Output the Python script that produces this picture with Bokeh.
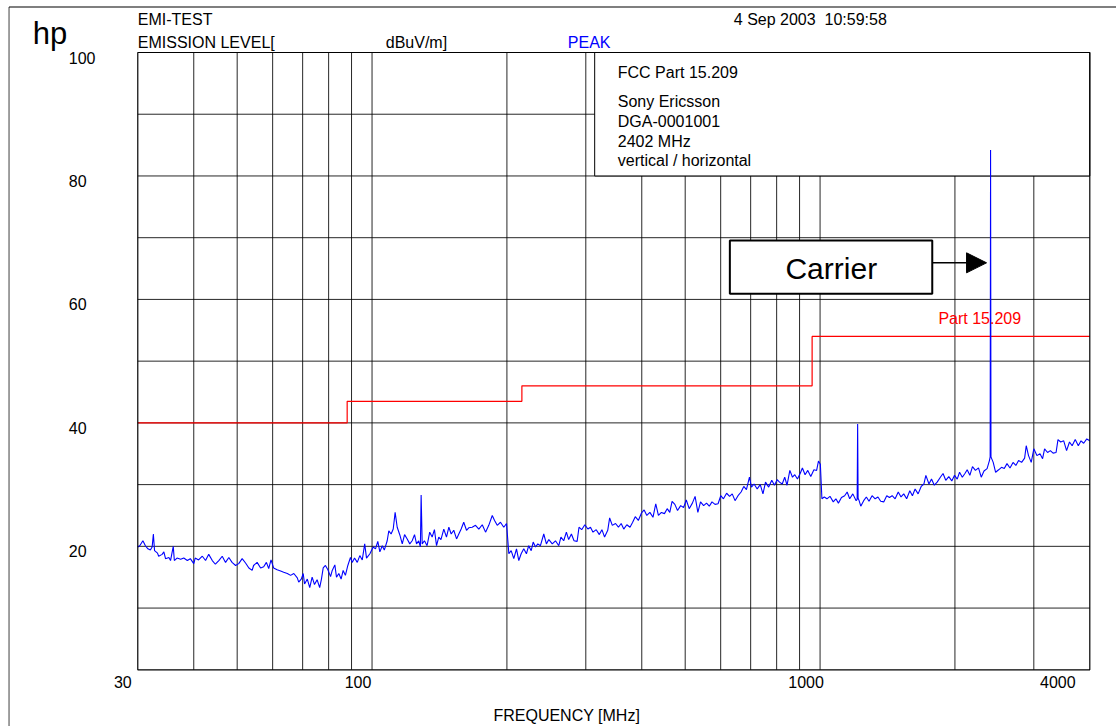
from bokeh.plotting import figure
from bokeh.models import Label, BoxAnnotation, Arrow, NormalHead, Range1d
from bokeh.embed import file_html
from bokeh.resources import INLINE

# ---------------- data ----------------
freq_mhz = [
    30.0, 30.3, 30.8, 31.2, 31.6, 32.0, 32.3, 32.5, 32.7, 33.2, 33.4, 34.0, 34.3, 34.6, 35.2, 35.5,
    36.0, 36.2, 36.7, 37.4, 38.0, 38.7, 39.3, 40.0, 40.3, 41.0, 41.8, 42.5, 43.2, 44.0, 44.7, 45.5,
    46.3, 47.1, 47.9, 48.7, 49.6, 50.4, 51.3, 52.2, 53.1, 54.0, 54.4, 55.4, 56.4, 57.3, 58.1, 58.8,
    59.5, 60.3, 61.4, 62.5, 63.5, 64.7, 65.8, 66.9, 68.1, 68.6, 69.5, 70.2, 70.7, 71.7, 72.6, 73.5,
    74.4, 75.4, 76.4, 77.1, 77.8, 78.7, 79.7, 80.8, 81.5, 82.6, 83.3, 84.3, 85.3, 86.2, 87.2, 88.3,
    89.5, 90.3, 91.4, 92.7, 93.9, 95.1, 96.3, 97.2, 98.9, 100.6, 101.8, 103.0, 104.1, 105.4, 106.5,
    108.1, 109.0, 110.3, 111.5, 112.6, 113.8, 115.4, 116.8, 118.2, 119.8, 121.4, 122.9, 124.4, 125.7,
    127.1, 128.2, 128.7, 129.4, 130.9, 132.7, 134.5, 136.2, 137.8, 139.3, 140.9, 142.5, 144.6, 146.6,
    148.4, 150.2, 152.2, 154.4, 156.2, 158.1, 160.2, 162.5, 164.4, 167.3, 170.2, 173.1, 176.2, 179.2,
    182.2, 185.5, 187.7, 190.3, 193.5, 196.8, 199.6, 202.0, 204.4, 207.2, 210.1, 212.6, 215.2, 218.1,
    221.1, 223.7, 226.6, 228.9, 231.7, 234.4, 237.6, 241.7, 245.0, 248.1, 252.5, 256.7, 261.1, 264.0,
    267.8, 271.5, 274.7, 278.6, 282.4, 286.9, 289.7, 293.7, 298.5, 303.2, 307.3, 311.3, 316.5, 321.6,
    325.9, 330.4, 335.8, 339.1, 343.8, 349.5, 354.8, 359.8, 364.6, 370.4, 376.5, 381.7, 386.8, 393.0,
    399.4, 404.9, 410.5, 417.0, 423.7, 429.8, 435.7, 442.5, 449.4, 455.8, 461.9, 467.4, 474.1, 480.7,
    488.5, 495.9, 502.8, 510.4, 518.8, 526.1, 533.6, 541.0, 549.7, 557.9, 565.9, 573.8, 582.8, 592.0,
    600.3, 608.6, 618.6, 628.2, 636.7, 646.0, 656.0, 666.4, 675.7, 684.9, 695.7, 702.9, 712.3, 723.9,
    735.4, 745.7, 755.5, 767.9, 780.2, 791.0, 802.1, 811.9, 823.3, 833.9, 843.9, 856.1, 867.8, 878.2,
    890.3, 902.8, 913.2, 925.9, 938.8, 953.4, 968.9, 982.5, 991.8, 1001.5, 1009.5, 1022.0, 1036.0,
    1052.2, 1070.1, 1084.7, 1098.9, 1116.3, 1134.7, 1149.5, 1164.4, 1183.4, 1203.7, 1210.0, 1213.0,
    1216.0, 1222.2, 1232.6, 1251.3, 1268.6, 1286.0, 1306.6, 1327.2, 1346.5, 1365.6, 1387.1, 1408.7,
    1428.4, 1448.5, 1470.8, 1494.6, 1515.9, 1537.3, 1560.6, 1586.1, 1607.4, 1629.7, 1655.1, 1681.6,
    1705.3, 1722.5, 1750.0, 1773.2, 1799.1, 1825.4, 1855.7, 1881.4, 1907.8, 1937.9, 1968.1, 1995.9,
    2023.6, 2048.1, 2077.3, 2105.5, 2130.0, 2159.3, 2188.8, 2222.3, 2257.7, 2289.4, 2322.2, 2359.4,
    2387.8, 2397.0, 2402.0, 2407.0, 2434.8, 2465.3, 2503.8, 2541.0, 2577.4, 2613.3, 2654.4, 2696.0,
    2735.3, 2774.2, 2817.4, 2861.4, 2885.2, 2919.4, 2960.1, 3000.0, 3047.7, 3096.8, 3138.1, 3170.6,
    3219.8, 3266.0, 3311.9, 3363.3, 3396.6, 3444.4, 3498.2, 3549.9, 3603.6, 3652.6, 3711.5, 3770.7,
    3823.6, 3875.8, 3938.2, 4000.0,
]
level_dbuv = [
    19.9, 20.1, 20.9, 20.1, 19.6, 19.4, 19.9, 22.0, 19.3, 18.9, 18.4, 18.7, 19.1, 18.0, 18.2, 17.7,
    20.0, 17.7, 18.1, 17.9, 18.1, 17.7, 18.0, 17.2, 18.1, 17.8, 18.4, 17.7, 18.7, 17.7, 17.1, 17.7,
    18.4, 17.4, 18.2, 17.4, 16.9, 17.2, 18.0, 17.3, 16.5, 16.1, 16.9, 17.4, 16.5, 16.7, 17.4, 16.4,
    17.8, 16.5, 16.2, 16.0, 15.8, 15.6, 15.3, 15.6, 14.9, 14.2, 14.7, 15.6, 13.9, 14.7, 13.3, 15.0,
    13.8, 14.6, 13.3, 14.7, 16.5, 16.9, 16.2, 15.1, 16.1, 17.0, 15.0, 15.6, 14.7, 16.1, 15.3, 16.9,
    18.2, 17.4, 18.1, 17.4, 18.5, 17.8, 20.4, 18.1, 18.8, 19.9, 19.6, 20.8, 19.1, 20.1, 19.4,
    20.9, 22.5, 22.0, 22.8, 25.5, 23.1, 21.8, 20.4, 21.9, 21.2, 20.4, 20.9, 21.9, 20.4,
    20.9, 19.9, 28.3, 20.4, 20.9, 20.1, 22.3, 21.5, 22.7, 20.1, 21.5, 21.1, 22.8, 21.5,
    23.1, 22.0, 22.6, 21.2, 22.0, 22.8, 23.9, 22.6, 23.0, 23.1, 23.4, 22.8, 23.5, 22.3,
    23.4, 25.0, 24.2, 23.4, 23.9, 23.1, 23.7, 18.8, 19.3, 18.0, 19.6, 17.7, 18.8, 19.6,
    18.8, 20.1, 19.3, 20.7, 19.9, 20.4, 20.1, 22.0, 20.4, 21.1, 20.4, 20.9, 20.1, 21.5,
    20.9, 22.3, 21.1, 22.0, 20.9, 20.8, 23.1, 22.7, 23.5, 22.8, 23.1, 22.3, 22.7, 21.9,
    22.7, 21.5, 22.6, 24.6, 23.4, 23.7, 23.1, 23.7, 22.8, 23.5, 23.1, 23.9, 24.8, 24.2,
    25.4, 25.9, 25.0, 25.5, 24.7, 26.9, 25.0, 25.5, 25.3, 26.1, 25.5, 27.3, 26.8, 25.8,
    26.6, 26.3, 27.5, 26.1, 27.0, 28.1, 25.5, 27.2, 26.6, 27.0, 26.5, 27.2, 26.8, 26.9,
    28.2, 27.7, 28.6, 28.1, 28.5, 27.4, 28.2, 28.8, 29.7, 29.2, 31.2, 29.6, 30.1, 29.3,
    30.0, 28.5, 30.4, 29.6, 30.7, 29.9, 30.8, 30.4, 30.1, 31.2, 29.9, 32.3, 31.2, 31.6,
    30.9, 31.8, 32.7, 31.6, 32.3, 31.3, 32.4, 32.3, 33.8, 33.3, 27.7, 28.0, 27.7,
    28.1, 27.2, 27.7, 27.0, 27.9, 28.2, 28.8, 27.7, 28.5, 27.4, 27.6, 39.8,
    27.8, 27.4, 26.5, 27.4, 28.0, 27.3, 28.2, 27.7, 28.0, 27.3, 27.2, 28.2,
    27.9, 28.2, 27.7, 28.8, 28.0, 28.5, 27.7, 29.0, 28.2, 29.3, 28.5, 29.7,
    30.1, 31.5, 30.1, 30.9, 29.9, 30.4, 31.2, 31.8, 30.7, 31.3, 30.6, 31.5,
    30.9, 32.0, 31.2, 31.8, 32.4, 31.5, 32.9, 32.3, 32.7, 31.2, 32.2, 32.6,
    33.9, 34.5, 84.2, 34.5, 33.6, 32.0, 32.4, 32.8, 32.6, 33.4, 32.7, 33.6,
    33.1, 33.9, 33.6, 34.3, 36.3, 34.7, 33.6, 35.8, 34.7, 35.0, 34.2, 35.8,
    35.2, 35.5, 35.1, 35.2, 37.3, 36.9, 37.1, 35.5, 36.9, 36.3, 37.3, 36.3,
    37.1, 36.7, 37.4, 37.1,
]

# FCC Part 15.209 limit (band edges in MHz, level in dBuV/m)
limit_edges = [30, 88, 216, 960, 4000]
limit_levels = [40, 43.5, 46, 54]

x_tick_values = [30, 100, 1000, 4000]
x_tick_labels = ["30", "100", "1000", "4000"]
y_tick_values = [100, 80, 60, 40, 20]
x_grid_values = [40, 50, 60, 70, 80, 90, 100, 200, 300, 400, 500, 600, 700, 800, 900, 1000, 2000, 3000]
y_grid_values = [10, 20, 30, 40, 50, 60, 70, 80, 90]
f_min, f_max = 30, 4000
db_min, db_max = 0, 100

info_lines = ["FCC Part 15.209", "Sony Ericsson", "DGA-0001001", "2402 MHz", "vertical / horizontal"]

# ---------------- figure ----------------
# The frame fills the whole canvas; the measurement grid occupies 30-4000 MHz x 0-100 dB
FONT = "Liberation Sans"

p = figure(width=1116, height=726, x_axis_type="log",
           x_range=Range1d(14.815, 4588.3), y_range=Range1d(-9.185, 108.424),
           output_backend="svg", toolbar_location=None, title=None,
           min_border=0, min_border_left=0, min_border_right=0,
           min_border_top=0, min_border_bottom=0)
p.axis.visible = False
p.grid.visible = False
p.outline_line_color = None
p.background_fill_color = "white"
p.border_fill_color = "white"

# page frame lines (left grey, top black)
p.segment(x0=[15.48], y0=[-30], x1=[15.48], y1=[107.37], line_color="#808080", line_width=1.5)
p.segment(x0=[15.48], y0=[107.37], x1=[1e5], y1=[107.37], line_color="black", line_width=1.2)

# measurement grid
p.segment(x0=x_grid_values, y0=[db_min] * len(x_grid_values),
          x1=x_grid_values, y1=[db_max] * len(x_grid_values),
          line_color="black", line_alpha=0.85, line_width=1)
p.segment(x0=[f_min] * len(y_grid_values), y0=y_grid_values,
          x1=[f_max] * len(y_grid_values), y1=y_grid_values,
          line_color="black", line_alpha=0.85, line_width=1)

# info box (covers grid, under traces)
p.quad(left=[314], right=[f_max], bottom=[80], top=[db_max],
       fill_color="white", line_color="black", line_width=1)

# limit line as steps
lx, ly = [], []
for i, lev in enumerate(limit_levels):
    lx += [limit_edges[i], limit_edges[i + 1]]
    ly += [lev, lev]
p.line(lx, ly, line_color="#ff0000", line_width=1.2)

# measured trace
p.line(freq_mhz, level_dbuv, line_color="#0000ff", line_width=1.1)

# plot frame
p.quad(left=[f_min], right=[f_max], bottom=[db_min], top=[db_max],
       fill_alpha=0, line_color="black", line_width=1.2)

# carrier callout
p.add_layout(BoxAnnotation(left=629, right=1780, bottom=60.9, top=69.55,
                           fill_color="white", fill_alpha=1, line_color="black",
                           line_alpha=1, line_width=2))
p.add_layout(Arrow(end=NormalHead(size=20, fill_color="black", line_color="black"),
                   x_start=1780, y_start=65.93, x_end=2353, y_end=65.93,
                   line_color="black", line_width=1.5))


def lab(text, x, y, dx, dy, size="16px", color="black", align="left", baseline="middle", style="normal"):
    p.add_layout(Label(x=x, y=y, x_offset=dx, y_offset=dy, text=text,
                       text_font=FONT, text_font_size=size, text_color=color,
                       text_align=align, text_baseline=baseline, text_font_style=style))


lab("Carrier", f_min, db_max, 693.5, -216, size="30px", align="center")
lab("Part 15.209", f_min, db_max, 842, -266, color="#ff0000", align="center")

# header
lab("hp", f_min, db_max, -105, 19, size="31px", baseline="alphabetic")
lab("EMI-TEST", f_min, db_max, 0, 33, baseline="alphabetic")
lab("EMISSION LEVEL[", f_min, db_max, 0, 10, baseline="alphabetic")
lab("dBuV/m]", f_min, db_max, 248, 10, baseline="alphabetic")
lab("PEAK", f_min, db_max, 430, 10, color="#0000ff", baseline="alphabetic")
lab("4 Sep 2003\u00a0 10:59:58", f_min, db_max, 596, 33, baseline="alphabetic")

# info box text
for txt, dy in zip(info_lines, [-20, -49, -69, -89, -108]):
    lab(txt, f_min, db_max, 480, dy)

# y tick labels
for v in y_tick_values:
    lab(str(v), f_min, v, -69, -5)

# x tick labels
for v, t, dx in zip(x_tick_values, x_tick_labels, [-15, -14, -14, -32]):
    lab(t, v, db_min, dx, -12, align="center")

lab("FREQUENCY [MHz]", f_min, db_min, 429, -46, align="center")

open("out.html", "w").write(file_html(p, INLINE))
